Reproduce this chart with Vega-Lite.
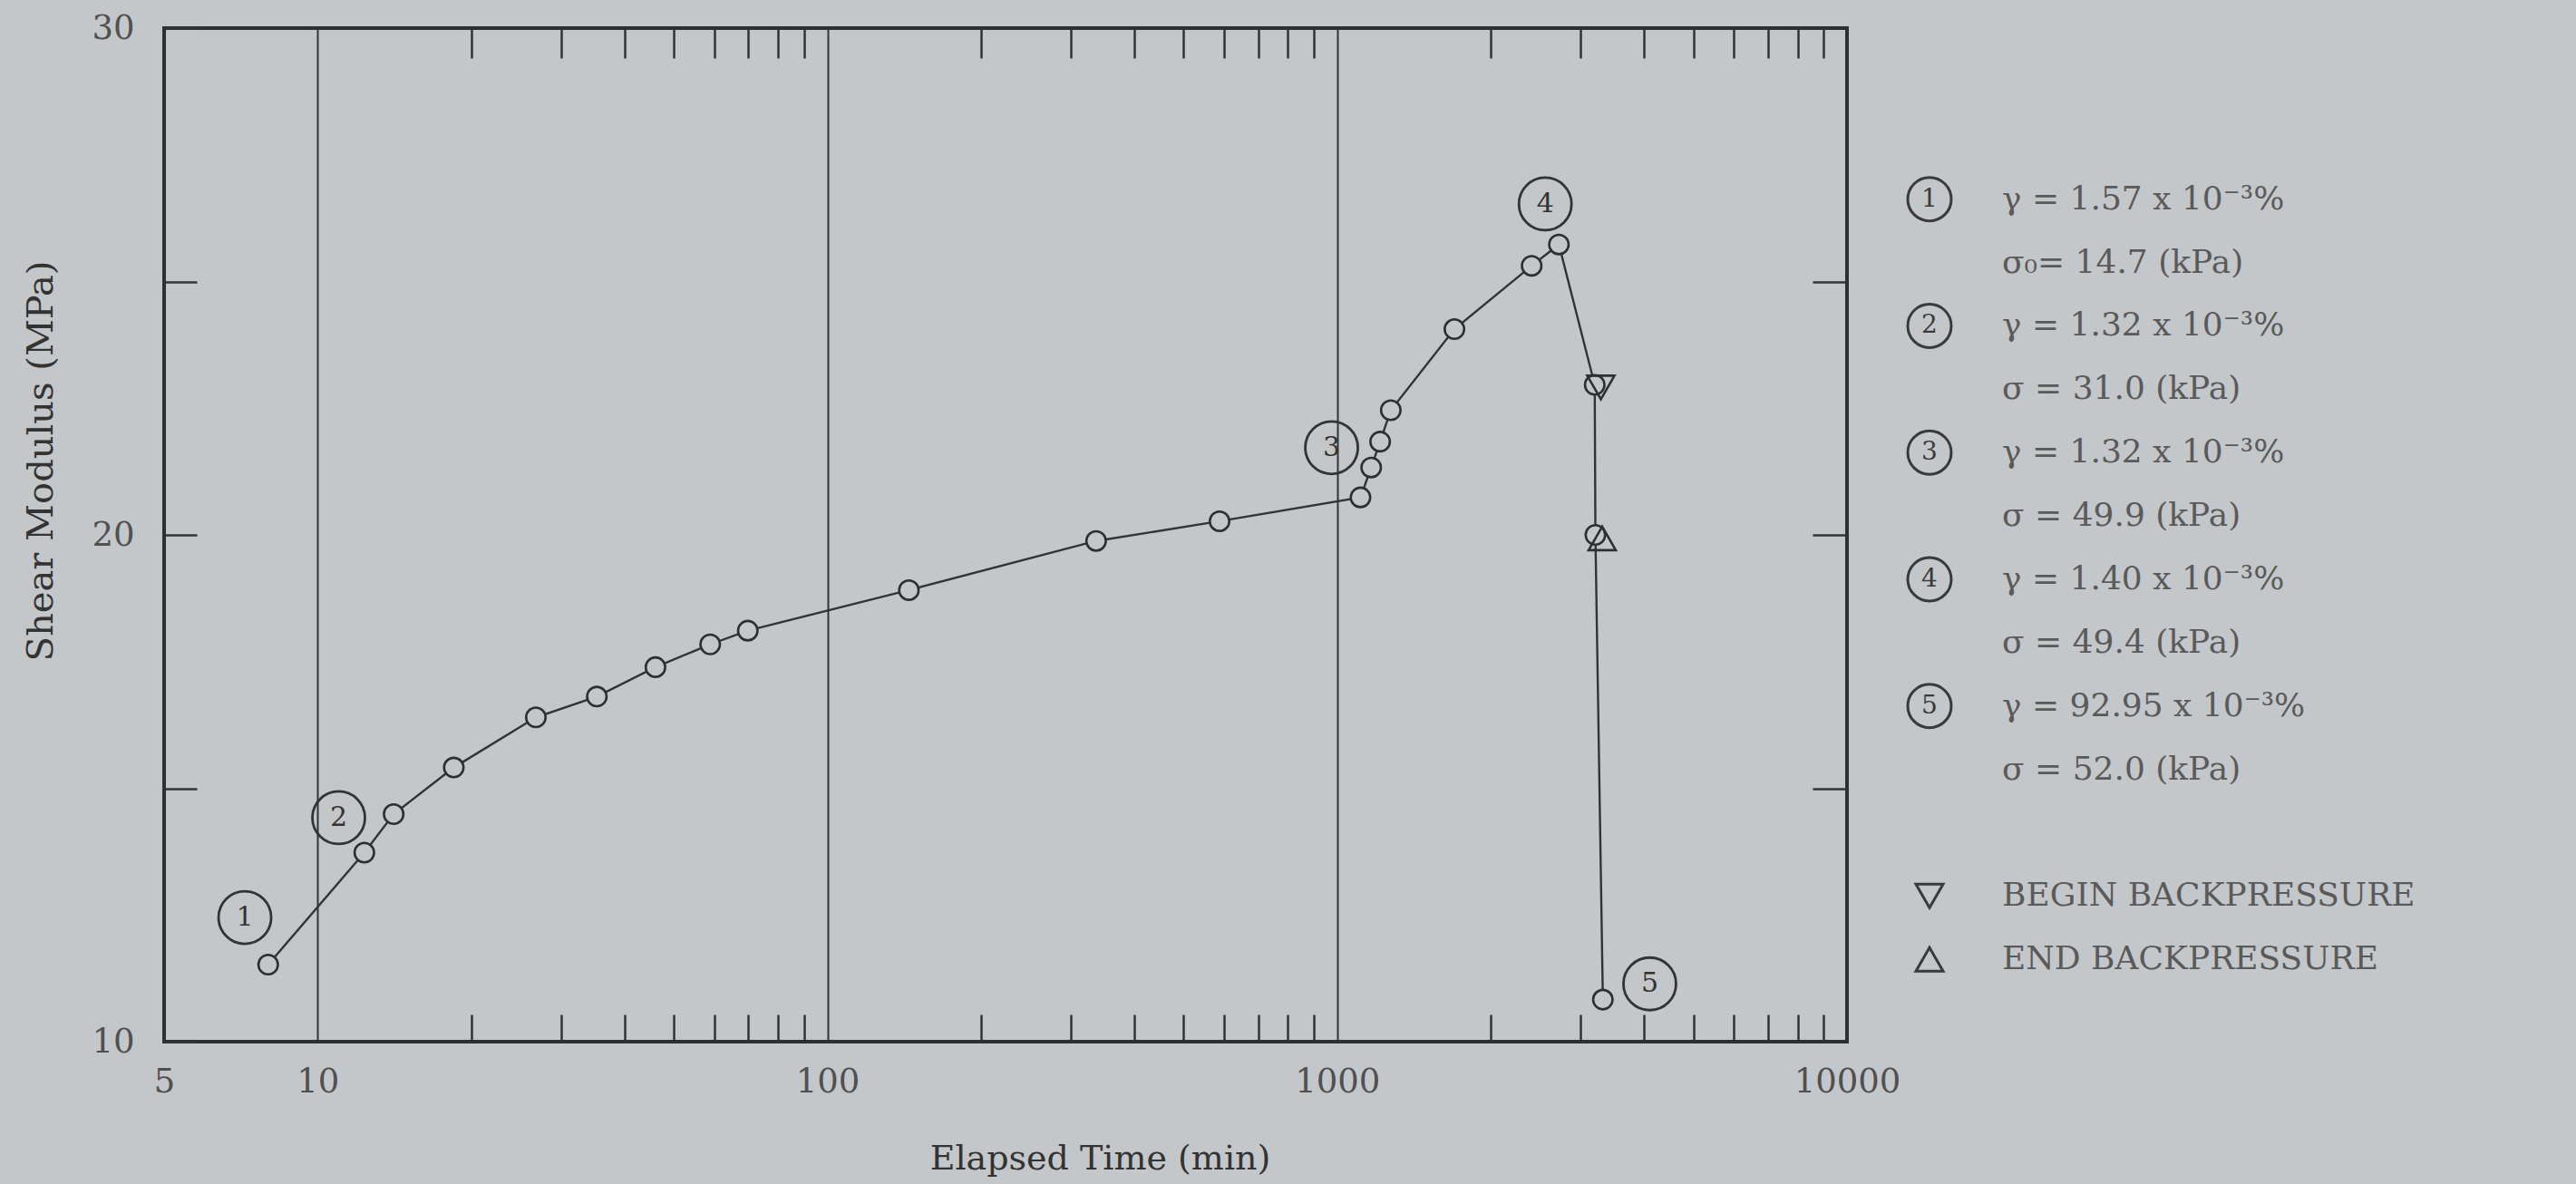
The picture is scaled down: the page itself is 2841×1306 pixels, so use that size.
{
  "$schema": "https://vega.github.io/schema/vega-lite/v6.json",
  "background": "#c4c7c9",
  "autosize": {"type": "none"},
  "padding": {"left": 181, "top": 31, "right": 2660, "bottom": 1275},
  "bounds": "flush",
  "spacing": 91,
  "config": {
    "font": "DejaVu Serif",
    "view": {"stroke": null},
    "axis": {"labelFont": "DejaVu Serif", "titleFont": "DejaVu Serif"}
  },
  "datasets": {
    "readings": [
      {"n": 1, "t": 8.0, "G": 11.52},
      {"n": 2, "t": 12.35, "G": 13.73},
      {"n": 3, "t": 14.1, "G": 14.49},
      {"n": 4, "t": 18.5, "G": 15.41},
      {"n": 5, "t": 26.8, "G": 16.40},
      {"n": 6, "t": 35.3, "G": 16.81},
      {"n": 7, "t": 46.0, "G": 17.39},
      {"n": 8, "t": 58.9, "G": 17.84},
      {"n": 9, "t": 69.8, "G": 18.11},
      {"n": 10, "t": 144.5, "G": 18.91},
      {"n": 11, "t": 336.6, "G": 19.88},
      {"n": 12, "t": 587.8, "G": 20.27},
      {"n": 13, "t": 1111, "G": 20.74},
      {"n": 14, "t": 1166, "G": 21.33},
      {"n": 15, "t": 1214, "G": 21.84},
      {"n": 16, "t": 1274, "G": 22.46},
      {"n": 17, "t": 1698, "G": 24.06},
      {"n": 18, "t": 2407, "G": 25.31},
      {"n": 19, "t": 2722, "G": 25.73},
      {"n": 20, "t": 3200, "G": 22.96},
      {"n": 21, "t": 3210, "G": 20.0},
      {"n": 22, "t": 3320, "G": 10.83}
    ],
    "events": [
      {"t": 3290, "G": 22.91, "event": "BEGIN BACKPRESSURE"},
      {"t": 3310, "G": 19.93, "event": "END BACKPRESSURE"}
    ],
    "stages": [
      {"stage": "1", "t": 7.2, "G": 12.45},
      {"stage": "2", "t": 11.0, "G": 14.42},
      {"stage": "3", "t": 975, "G": 21.72},
      {"stage": "4", "t": 2559, "G": 26.53},
      {"stage": "5", "t": 4103, "G": 11.14}
    ],
    "key": [
      {"line": 1, "stage": "1", "text": "γ = 1.57 x 10⁻³%"},
      {"line": 2, "text": "σ₀= 14.7 (kPa)"},
      {"line": 3, "stage": "2", "text": "γ = 1.32 x 10⁻³%"},
      {"line": 4, "text": "σ = 31.0 (kPa)"},
      {"line": 5, "stage": "3", "text": "γ = 1.32 x 10⁻³%"},
      {"line": 6, "text": "σ = 49.9 (kPa)"},
      {"line": 7, "stage": "4", "text": "γ = 1.40 x 10⁻³%"},
      {"line": 8, "text": "σ = 49.4 (kPa)"},
      {"line": 9, "stage": "5", "text": "γ = 92.95 x 10⁻³%"},
      {"line": 10, "text": "σ = 52.0 (kPa)"},
      {"line": 12, "event": "BEGIN BACKPRESSURE", "text": "BEGIN BACKPRESSURE"},
      {"line": 13, "event": "END BACKPRESSURE", "text": "END BACKPRESSURE"}
    ]
  },
  "hconcat": [
    {
      "width": 1856,
      "height": 1118,
      "view": {"stroke": "#2f2f2f", "strokeWidth": 4},
      "resolve": {"axis": {"x": "independent", "y": "independent"}},
      "layer": [
        {
          "data": {"name": "readings"},
          "mark": {"type": "line", "color": "#333333", "strokeWidth": 2.4},
          "encoding": {
            "x": {
              "field": "t", "type": "quantitative",
              "scale": {"type": "log", "domain": [5, 10000], "nice": false},
              "axis": {
                "orient": "bottom",
                "values": [5, 10, 20, 30, 40, 50, 60, 70, 80, 90, 100, 200, 300, 400, 500, 600, 700, 800, 900, 1000, 2000, 3000, 4000, 5000, 6000, 7000, 8000, 9000, 10000],
                "labelExpr": "indexof([5, 10, 100, 1000, 10000], datum.value) >= 0 ? format(datum.value, 'd') : ''",
                "labelFlush": false,
                "labelOverlap": false,
                "labelFontSize": 37,
                "labelColor": "#505050",
                "labelPadding": 56,
                "domain": false,
                "tickSize": -30,
                "tickWidth": 2.5,
                "tickColor": "#333333",
                "tickOpacity": {"condition": {"test": "indexof([5, 10, 100, 1000, 10000], datum.value) >= 0", "value": 0}, "value": 1},
                "grid": true,
                "gridColor": "#333333",
                "gridWidth": 2,
                "gridOpacity": {"condition": {"test": "indexof([10, 100, 1000], datum.value) >= 0", "value": 1}, "value": 0},
                "title": "Elapsed Time (min)",
                "titleFontSize": 38,
                "titleFontWeight": "normal",
                "titleColor": "#333333",
                "titleX": 1032,
                "titleY": 129,
                "titleAlign": "center",
                "titleBaseline": "middle"
              }
            },
            "y": {
              "field": "G", "type": "quantitative",
              "scale": {"domain": [10, 30], "nice": false, "zero": false},
              "axis": {
                "orient": "left",
                "values": [10, 15, 20, 25, 30],
                "labelExpr": "datum.value % 10 === 0 ? format(datum.value, 'd') : ''",
                "labelFontSize": 37,
                "labelColor": "#505050",
                "labelPadding": 69,
                "domain": false,
                "grid": false,
                "tickSize": -36,
                "tickWidth": 2.5,
                "tickColor": "#333333",
                "title": "Shear Modulus (MPa)",
                "titleFontSize": 40,
                "titleFontWeight": "normal",
                "titleColor": "#333333",
                "titleX": -136,
                "titleY": 477,
                "titleAlign": "center",
                "titleBaseline": "middle"
              }
            }
          }
        },
        {
          "data": {"name": "readings"},
          "mark": {"type": "point", "shape": "circle", "filled": true, "fill": "#c4c7c9", "stroke": "#2f2f2f", "strokeWidth": 2.6, "size": 460, "opacity": 1},
          "encoding": {
            "x": {
              "field": "t", "type": "quantitative",
              "scale": {"type": "log", "domain": [5, 10000], "nice": false},
              "axis": {
                "orient": "top",
                "values": [20, 30, 40, 50, 60, 70, 80, 90, 200, 300, 400, 500, 600, 700, 800, 900, 2000, 3000, 4000, 5000, 6000, 7000, 8000, 9000],
                "labels": false,
                "domain": false,
                "grid": false,
                "tickSize": -33,
                "tickWidth": 2.5,
                "tickColor": "#333333",
                "title": null
              }
            },
            "y": {
              "field": "G", "type": "quantitative",
              "scale": {"domain": [10, 30], "nice": false, "zero": false},
              "axis": {
                "orient": "right",
                "values": [15, 20, 25],
                "labels": false,
                "domain": false,
                "grid": false,
                "tickSize": -38,
                "tickWidth": 2.5,
                "tickColor": "#333333",
                "title": null
              }
            }
          }
        },
        {
          "data": {"name": "events"},
          "mark": {"type": "point", "filled": false, "stroke": "#2f2f2f", "strokeWidth": 2.6, "size": 900, "opacity": 1},
          "encoding": {
            "x": {"field": "t", "type": "quantitative", "axis": null},
            "y": {"field": "G", "type": "quantitative", "axis": null},
            "shape": {
              "field": "event", "type": "nominal",
              "scale": {"domain": ["BEGIN BACKPRESSURE", "END BACKPRESSURE"], "range": ["triangle-down", "triangle-up"]},
              "legend": null
            }
          }
        },
        {
          "data": {"name": "stages"},
          "mark": {"type": "point", "shape": "circle", "filled": false, "stroke": "#333333", "strokeWidth": 2.8, "size": 3364, "opacity": 1},
          "encoding": {
            "x": {"field": "t", "type": "quantitative", "axis": null},
            "y": {"field": "G", "type": "quantitative", "axis": null}
          }
        },
        {
          "data": {"name": "stages"},
          "mark": {"type": "text", "fontSize": 30, "color": "#333333", "align": "center", "baseline": "middle"},
          "encoding": {
            "x": {"field": "t", "type": "quantitative", "axis": null},
            "y": {"field": "G", "type": "quantitative", "axis": null},
            "text": {"field": "stage"}
          }
        }
      ]
    },
    {
      "width": 700,
      "height": 1118,
      "view": {"stroke": null},
      "data": {"name": "key"},
      "encoding": {
        "x": {"datum": 0, "type": "quantitative", "scale": {"domain": [0, 1], "nice": false}, "axis": null},
        "y": {"field": "line", "type": "quantitative", "scale": {"domain": [14.3, -1.7], "nice": false, "zero": false}, "axis": null}
      },
      "layer": [
        {
          "transform": [{"filter": "isValid(datum.stage)"}],
          "mark": {"type": "point", "shape": "circle", "filled": false, "stroke": "#3a3a3a", "strokeWidth": 3, "size": 2304, "opacity": 1}
        },
        {
          "transform": [{"filter": "isValid(datum.stage)"}],
          "mark": {"type": "text", "fontSize": 28, "color": "#3a3a3a", "align": "center", "baseline": "middle"},
          "encoding": {"text": {"field": "stage"}}
        },
        {
          "transform": [{"filter": "isValid(datum.event)"}],
          "mark": {"type": "point", "filled": false, "stroke": "#3a3a3a", "strokeWidth": 3, "size": 900, "opacity": 1},
          "encoding": {
            "shape": {
              "field": "event", "type": "nominal",
              "scale": {"domain": ["BEGIN BACKPRESSURE", "END BACKPRESSURE"], "range": ["triangle-down", "triangle-up"]},
              "legend": null
            }
          }
        },
        {
          "mark": {"type": "text", "align": "left", "baseline": "middle", "dx": 80, "fontSize": 36, "color": "#5a5a5a"},
          "encoding": {"text": {"field": "text"}}
        }
      ]
    }
  ]
}
